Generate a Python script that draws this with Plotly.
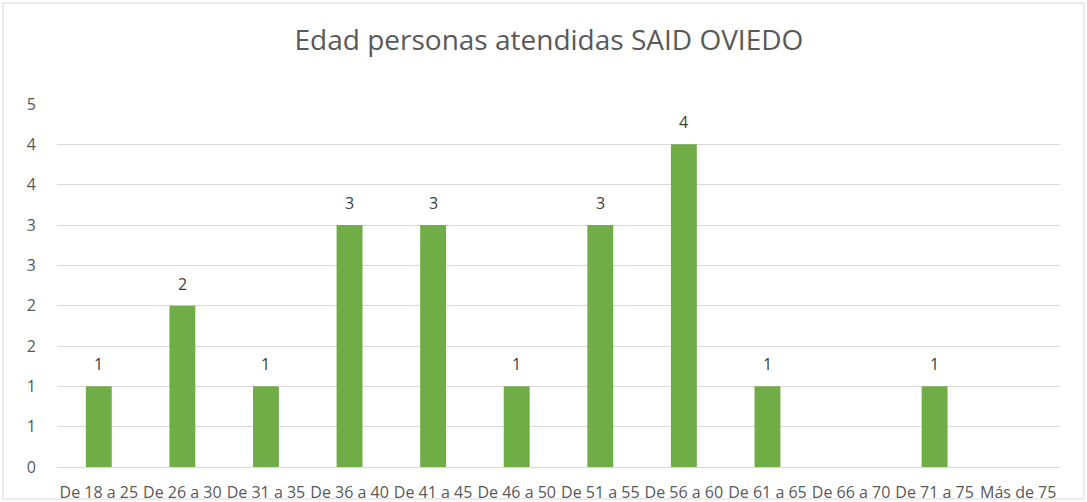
import plotly.graph_objects as go

categories = ["De 18 a 25", "De 26 a 30", "De 31 a 35", "De 36 a 40", "De 41 a 45",
              "De 46 a 50", "De 51 a 55", "De 56 a 60", "De 61 a 65", "De 66 a 70",
              "De 71 a 75", "Más de 75"]
values = [1, 2, 1, 3, 3, 1, 3, 4, 1, 0, 1, 0]
tick_values = [0, 0.5, 1, 1.5, 2, 2.5, 3, 3.5, 4, 4.5]
tick_labels = ["0", "1", "1", "2", "2", "3", "3", "4", "4", "5"]

W, H = 1087, 502
ml, mr, mt, mb = 57, 27, 104, 35

fig = go.Figure(go.Bar(
    x=categories, y=values,
    marker=dict(color="#70ad47", line=dict(width=0)),
    width=0.31,
    cliponaxis=False,
))

for c, v in zip(categories, values):
    if v:
        fig.add_annotation(x=c, y=v, text=str(v), showarrow=False,
                           yshift=22, yanchor="middle",
                           font=dict(size=16, color="#404040", family="Open Sans"))

pw = W - ml - mr
ph = H - mt - mb
fig.add_shape(type="rect", xref="paper", yref="paper",
              x0=(3 - ml) / pw, x1=(W - 3 - ml) / pw,
              y0=-(mb - 3) / ph,
              y1=1 + (mt - 3) / ph,
              line=dict(color="#d9d9d9", width=1), layer="below")

fig.update_layout(
    width=W, height=H,
    margin=dict(l=ml, r=mr, t=mt, b=mb),
    paper_bgcolor="white", plot_bgcolor="white",
    title=dict(text="Edad personas atendidas SAID OVIEDO", x=0.505, xanchor="center",
               y=1 - 40 / H, yanchor="middle",
               font=dict(size=28, color="#595959", family="Open Sans")),
    font=dict(family="Open Sans", color="#595959"),
    xaxis=dict(showgrid=False, showline=False, ticks="", automargin=False,
               tickfont=dict(size=16, color="#595959"), tickangle=0,
               ticklabelstandoff=14),
    yaxis=dict(range=[0, 4.5], tickvals=tick_values, ticktext=tick_labels,
               showgrid=True, gridcolor="#d9d9d9", gridwidth=1, automargin=False,
               zeroline=True, zerolinecolor="#d9d9d9", zerolinewidth=1,
               showline=False, ticks="", ticklabelstandoff=20,
               tickfont=dict(size=16, color="#595959")),
    showlegend=False, bargap=0.69,
)

fig.write_html("out.html", config={"displayModeBar": False},
               post_script="document.body.style.margin='0';")
